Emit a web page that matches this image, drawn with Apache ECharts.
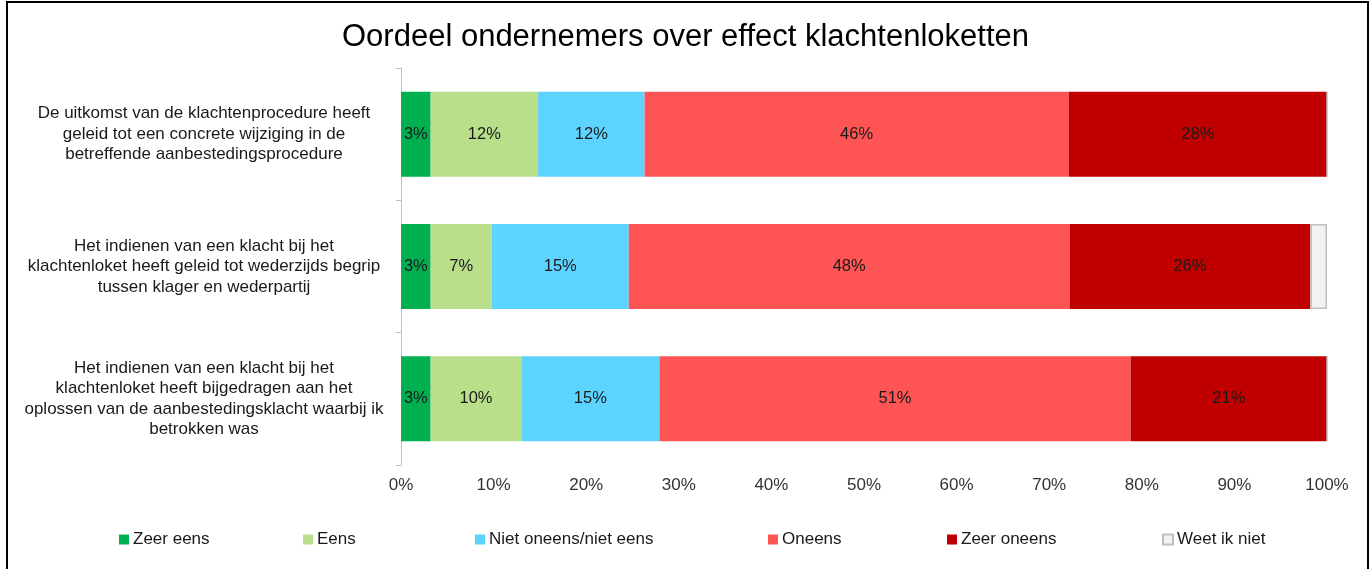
<!DOCTYPE html>
<html>
<head>
<meta charset="utf-8">
<script src="https://cdn.jsdelivr.net/npm/echarts@6/dist/echarts.min.js"></script>
<style>
  html, body { margin: 0; padding: 0; background: #fff; }
  #myChart { width: 1371px; height: 569px; }
</style>
</head>
<body>
<div id="myChart"></div>
<script>
    // vragen (y-as), van boven naar beneden
    const categories = [
        'De uitkomst van de klachtenprocedure heeft\ngeleid tot een concrete wijziging in de\nbetreffende aanbestedingsprocedure',
        'Het indienen van een klacht bij het\nklachtenloket heeft geleid tot wederzijds begrip\ntussen klager en wederpartij',
        'Het indienen van een klacht bij het\nklachtenloket heeft bijgedragen aan het\noplossen van de aanbestedingsklacht waarbij ik\nbetrokken was'
    ];
    // percentages per antwoord
    const zeerEens = [3.2, 3.2, 3.2];
    const eens = [11.6, 6.6, 9.8];
    const neutraal = [11.5, 14.8, 14.9];
    const oneens = [45.8, 47.6, 50.9];
    const zeerOneens = [27.9, 26.0, 21.2];
    const weetNiet = [0, 1.8, 0];
    const xTicks = ['0%', '10%', '20%', '30%', '40%', '50%', '60%', '70%', '80%', '90%', '100%'];

    const font = '"Liberation Sans", Arial, sans-serif';

    const chart = echarts.init(document.getElementById('myChart'));

    function serie(name, data, color, showLabel, border) {
        return {
            name: name,
            type: 'bar',
            stack: 'totaal',
            data: data,
            barWidth: 85,
            itemStyle: {
                color: color,
                borderColor: border || color,
                borderWidth: border ? 1.5 : 0
            },
            label: {
                show: showLabel,
                position: 'inside',
                color: '#1a1a1a',
                fontSize: 16.5,
                fontFamily: font,
                formatter: function (p) { return Math.round(p.value) + '%'; }
            },
            emphasis: { disabled: true }
        };
    }

    // legenda's apart zodat de posities klopt
    const legendPos = [
        ['Zeer eens', 119],
        ['Eens', 303],
        ['Niet oneens/niet eens', 475],
        ['Oneens', 768],
        ['Zeer oneens', 947],
        ['Weet ik niet', 1162]
    ];
    const legends = legendPos.map(function (l) {
        return {
            data: [l[0]],
            left: l[1],
            top: 531,
            padding: 0,
            icon: 'rect',
            itemWidth: 10,
            itemHeight: 10,
            textStyle: { fontSize: 17, color: '#1a1a1a', fontFamily: font, padding: [0, 0, 0, -1] },
            selectedMode: false
        };
    });

    const option = {
        animation: false,
        title: {
            text: 'Oordeel ondernemers over effect klachtenloketten',
            left: 'center',
            top: 22,
            padding: 0,
            textStyle: { fontSize: 31, fontWeight: 'normal', color: '#000', fontFamily: font }
        },
        legend: legends,
        grid: { left: 401, right: 44, top: 68, bottom: 104 },
        xAxis: {
            type: 'value',
            min: 0,
            max: 100,
            interval: 10,
            axisLine: { show: false },
            axisTick: { show: false },
            splitLine: { show: false },
            axisLabel: {
                margin: 12,
                fontSize: 17,
                color: '#333',
                fontFamily: font,
                formatter: function (v) { return xTicks[Math.round(v / 10)]; }
            }
        },
        yAxis: {
            type: 'category',
            inverse: true,
            data: categories,
            axisLine: { show: true, lineStyle: { color: '#bfbfbf', width: 1 } },
            axisTick: { show: true, length: 5, lineStyle: { color: '#bfbfbf' } },
            axisLabel: {
                margin: 197,
                align: 'center',
                fontSize: 17,
                lineHeight: 20.5,
                color: '#1a1a1a',
                fontFamily: font
            }
        },
        series: [
            serie('Zeer eens', zeerEens, '#00b050', true),
            serie('Eens', eens, '#b9df8b', true),
            serie('Niet oneens/niet eens', neutraal, '#5dd4ff', true),
            serie('Oneens', oneens, '#ff5454', true),
            serie('Zeer oneens', zeerOneens, '#c00000', true),
            serie('Weet ik niet', weetNiet, '#f2f2f2', false, '#bfbfbf')
        ],
        graphic: [{
            type: 'rect',
            shape: { x: 7, y: 2, width: 1361, height: 600 },
            style: { fill: 'none', stroke: '#000', lineWidth: 2 },
            silent: true
        }]
    };
    chart.setOption(option);
</script>
</body>
</html>
